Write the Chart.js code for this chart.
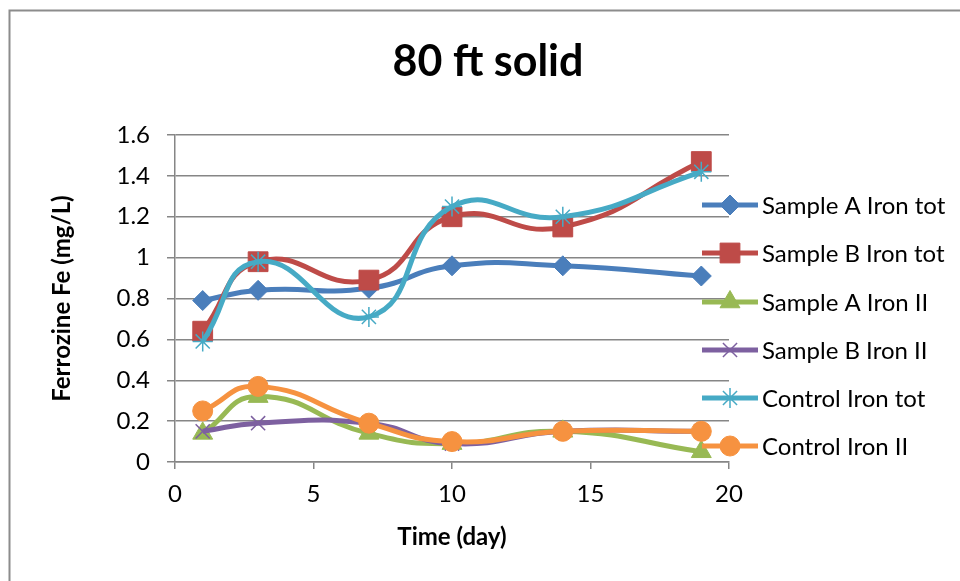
<!DOCTYPE html>
<html>
<head>
<meta charset="utf-8">
<script src="https://cdn.jsdelivr.net/npm/chart.js@4/dist/chart.umd.min.js"></script>
<style>
  html, body { margin: 0; padding: 0; background: #fff; }
  canvas { display: block; }
</style>
</head>
<body>
<canvas id="ironChart" width="960" height="581"></canvas>
<script>
// days sampled
const days = [1, 3, 7, 10, 14, 19];

// Ferrozine Fe (mg/L)
const sampleATot = [0.79, 0.84, 0.85, 0.96, 0.96, 0.91];
const sampleBTot = [0.64, 0.98, 0.89, 1.20, 1.15, 1.47];
const sampleAII = [0.14, 0.32, 0.14, 0.09, 0.15, 0.05];
const sampleBII = [0.15, 0.19, 0.19, 0.09, 0.15, 0.15];
const controlTot = [0.59, 0.98, 0.71, 1.25, 1.20, 1.42];
const controlII = [0.25, 0.37, 0.19, 0.10, 0.15, 0.15];

const seriesNames = ['Sample A Iron tot', 'Sample B Iron tot', 'Sample A Iron II',
    'Sample B Iron II', 'Control Iron tot', 'Control Iron II'];

const xTicks = [0, 5, 10, 15, 20];
const yTicks = [0, 0.2, 0.4, 0.6, 0.8, 1, 1.2, 1.4, 1.6];

const FONT = 'Lato, "Open Sans", sans-serif';

function pts(values) {
    return days.map((d, i) => ({ x: d, y: values[i] }));
}

function series(idx, values, color, style, radius) {
    return {
        label: seriesNames[idx],
        data: pts(values),
        order: seriesNames.length - idx, // later series sit on top, like Excel
        borderColor: color,
        backgroundColor: color,
        pointBorderColor: color,
        pointBackgroundColor: color,
        borderWidth: 5,
        pointStyle: style,
        pointRadius: radius,
        pointBorderWidth: style === 'crossRot' || style === 'star' ? 1.5 : 1,
        tension: 0.5,
        clip: false,
    };
}

// outer chart frame (only top and left edges are in view) and the title
const framePlugin = {
    id: 'frame',
    beforeDraw(chart) {
        const c = chart.ctx;
        c.save();
        c.strokeStyle = '#8c8c8c';
        c.lineWidth = 2;
        c.beginPath();
        c.moveTo(9.5, 581);
        c.lineTo(9.5, 10.5);
        c.lineTo(960, 10.5);
        c.stroke();
        c.fillStyle = '#000';
        c.font = 'bold 43px ' + FONT;
        c.textAlign = 'center';
        c.textBaseline = 'middle';
        c.fillText('80 ft solid', 488, 62);
        c.restore();
    }
};

// Excel style legend: short line with the marker in the middle
const legendPlugin = {
    id: 'lineLegend',
    afterDraw(chart) {
        const c = chart.ctx;
        const rows = [205, 253, 302, 350, 398, 446];
        c.save();
        chart.data.datasets.forEach((ds, i) => {
            const y = rows[i];
            c.strokeStyle = ds.borderColor;
            c.lineWidth = 5;
            c.beginPath();
            c.moveTo(702, y);
            c.lineTo(758, y);
            c.stroke();
            c.fillStyle = ds.pointBackgroundColor;
            c.strokeStyle = ds.pointBorderColor;
            c.lineWidth = ds.pointBorderWidth;
            Chart.helpers.drawPoint(c, { pointStyle: ds.pointStyle, radius: ds.pointRadius, rotation: 0, borderWidth: ds.pointBorderWidth }, 730, y);
            c.fillStyle = '#000';
            c.font = '24px ' + FONT;
            c.textBaseline = 'middle';
            c.textAlign = 'left';
            c.fillText(ds.label, 762, y + 1);
        });
        c.restore();
    }
};

const ctx = document.getElementById('ironChart').getContext('2d');

const ironChart = new Chart(ctx, {
    type: 'line',
    data: {
        datasets: [
            series(0, sampleATot, '#4a7ebb', 'rectRot', 10),
            series(1, sampleBTot, '#be4b48', 'rect', 14),
            series(2, sampleAII, '#98b954', 'triangle', 11.5),
            series(3, sampleBII, '#7d60a0', 'crossRot', 10),
            series(4, controlTot, '#46aac5', 'star', 10),
            series(5, controlII, '#f69240', 'circle', 10),
        ]
    },
    options: {
        responsive: false,
        animation: false,
        layout: { padding: { left: 40, top: 135, right: 231, bottom: 0 } },
        plugins: {
            legend: { display: false },
            tooltip: { enabled: false },
            title: { display: false }
        },
        scales: {
            x: {
                type: 'linear',
                min: 0,
                max: 20,
                afterBuildTicks(scale) { scale.ticks = xTicks.map(v => ({ value: v })); },
                afterFit(scale) { scale.height = 581 - 462; },
                ticks: { color: '#000', font: { family: FONT, size: 24 }, padding: 11 },
                grid: { drawOnChartArea: false, color: '#868686', tickLength: 7, lineWidth: 1.5 },
                border: { color: '#868686', width: 1.5 },
                title: {
                    display: true,
                    text: 'Time (day)',
                    color: '#000',
                    font: { family: FONT, size: 24, weight: 'bold' },
                    padding: { top: 0, bottom: 29 }
                }
            },
            y: {
                min: 0,
                max: 1.6,
                afterBuildTicks(scale) { scale.ticks = yTicks.map(v => ({ value: v })); },
                afterFit(scale) { scale.width = 175 - 40; },
                ticks: {
                    color: '#000',
                    font: { family: FONT, size: 24 },
                    padding: 17,
                    callback: v => String(+v.toFixed(1))
                },
                grid: { color: '#868686', tickLength: 8, lineWidth: 1.5 },
                border: { color: '#868686', width: 1.5 },
                title: {
                    display: true,
                    text: 'Ferrozine Fe (mg/L)',
                    color: '#000',
                    font: { family: FONT, size: 24, weight: 'bold' },
                    padding: { top: 8, bottom: 0 }
                }
            }
        }
    },
    plugins: [framePlugin, legendPlugin]
});
</script>
</body>
</html>
